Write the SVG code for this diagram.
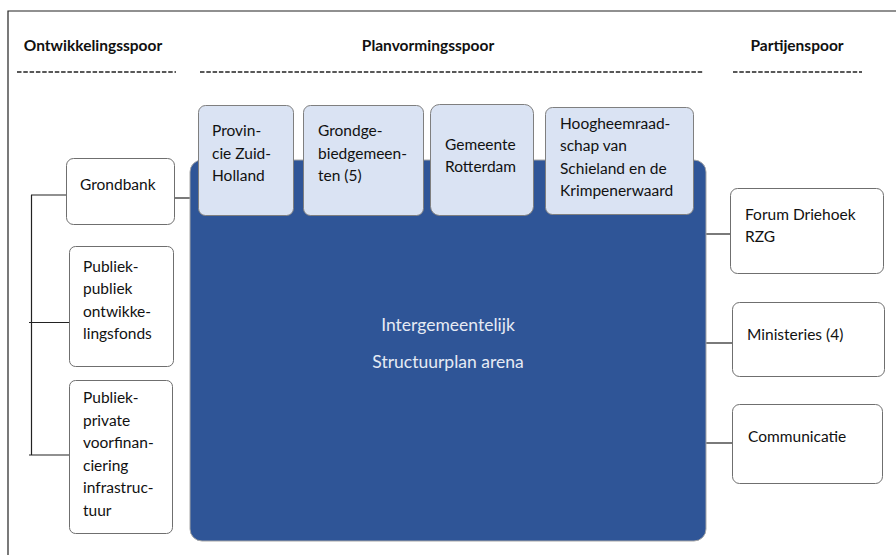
<svg xmlns="http://www.w3.org/2000/svg" width="896" height="555" viewBox="0 0 896 555">
<style>
text{font-family:Lato,"Open Sans","Liberation Sans",sans-serif;font-size:15.5px;fill:#111}
.h{font-weight:bold;font-size:15.5px;text-anchor:middle}
.box{fill:#fff;stroke:#6f6f6f;stroke-width:1}
.tb{fill:#DAE3F3;stroke:#7f7f7f;stroke-width:1}
.c{stroke:#222;stroke-width:1.2;fill:none}
.d{stroke:#222;stroke-width:1.3;stroke-dasharray:4.5 1.8}
.w{fill:#E6EBF4;text-anchor:middle;font-size:17.5px}
</style>
<g id="frame">
<path d="M8 555 V11 H896" fill="none" stroke="#222" stroke-width="1.2"/>
</g>
<g id="headers">
<text class="h" x="93" y="51">Ontwikkelingsspoor</text>
<text class="h" x="428" y="51">Planvormingsspoor</text>
<text class="h" x="797" y="51">Partijenspoor</text>
<line class="d" x1="17" y1="72" x2="176" y2="72"/>
<line class="d" x1="200" y1="72" x2="703" y2="72"/>
<line class="d" x1="733" y1="72" x2="862" y2="72"/>
</g>
<g id="connectors">
<line class="c" x1="31.5" y1="195" x2="31.5" y2="455"/>
<line class="c" x1="31" y1="195" x2="66" y2="195"/>
<line class="c" x1="29" y1="322.5" x2="69" y2="322.5"/>
<line class="c" x1="29" y1="455" x2="69" y2="455"/>
<line class="c" x1="174" y1="198" x2="190" y2="198"/>
<line class="c" x1="706" y1="234" x2="730" y2="234"/>
<line class="c" x1="706" y1="343" x2="732" y2="343"/>
<line class="c" x1="706" y1="443" x2="734" y2="443"/>
</g>
<g id="arena">
<rect x="190" y="160" width="516" height="381" rx="12" fill="#2F5597" stroke="#a6a6a6" stroke-width="1"/>
<text class="w" x="448" y="331">Intergemeentelijk</text>
<text class="w" x="448" y="368">Structuurplan arena</text>
</g>
<g id="provincie">
<rect class="tb" x="198.5" y="105.5" width="95" height="110" rx="7"/>
<text x="212" y="136">Provin-</text>
<text x="212" y="159">cie Zuid-</text>
<text x="212" y="181">Holland</text>
</g>
<g id="grondgebied">
<rect class="tb" x="303.5" y="105.5" width="120" height="110" rx="7"/>
<text x="318" y="136">Grondge-</text>
<text x="318" y="159">biedgemeen-</text>
<text x="318" y="181">ten (5)</text>
</g>
<g id="rotterdam">
<rect class="tb" x="430.5" y="104.5" width="103" height="111" rx="9"/>
<text x="445" y="150">Gemeente</text>
<text x="445" y="172">Rotterdam</text>
</g>
<g id="hoogheemraadschap">
<rect class="tb" x="545.5" y="107.5" width="148" height="107" rx="7"/>
<text x="560" y="129">Hoogheemraad-</text>
<text x="560" y="151">schap van</text>
<text x="560" y="174">Schieland en de</text>
<text x="560" y="196">Krimpenerwaard</text>
</g>
<g id="grondbank">
<rect class="box" x="66.5" y="158.5" width="108" height="66" rx="7"/>
<text x="80" y="190">Grondbank</text>
</g>
<g id="ppfonds">
<rect class="box" x="69.5" y="246.5" width="104" height="120" rx="6"/>
<text x="83" y="272">Publiek-</text>
<text x="83" y="294">publiek</text>
<text x="83" y="317">ontwikke-</text>
<text x="83" y="339">lingsfonds</text>
</g>
<g id="ppvoorfin">
<rect class="box" x="69.5" y="380.5" width="103" height="153" rx="6"/>
<text x="83" y="403">Publiek-</text>
<text x="83" y="426">private</text>
<text x="83" y="448">voorfinan-</text>
<text x="83" y="471">ciering</text>
<text x="83" y="493">infrastruc-</text>
<text x="83" y="516">tuur</text>
</g>
<g id="forum">
<rect class="box" x="730.5" y="188.5" width="153" height="85" rx="7"/>
<text x="745" y="220">Forum Driehoek</text>
<text x="745" y="242">RZG</text>
</g>
<g id="ministeries">
<rect class="box" x="732.5" y="302.5" width="152" height="74" rx="7"/>
<text x="747" y="340">Ministeries (4)</text>
</g>
<g id="communicatie">
<rect class="box" x="732.5" y="404.5" width="150" height="79" rx="7"/>
<text x="748" y="442">Communicatie</text>
</g>
</svg>
